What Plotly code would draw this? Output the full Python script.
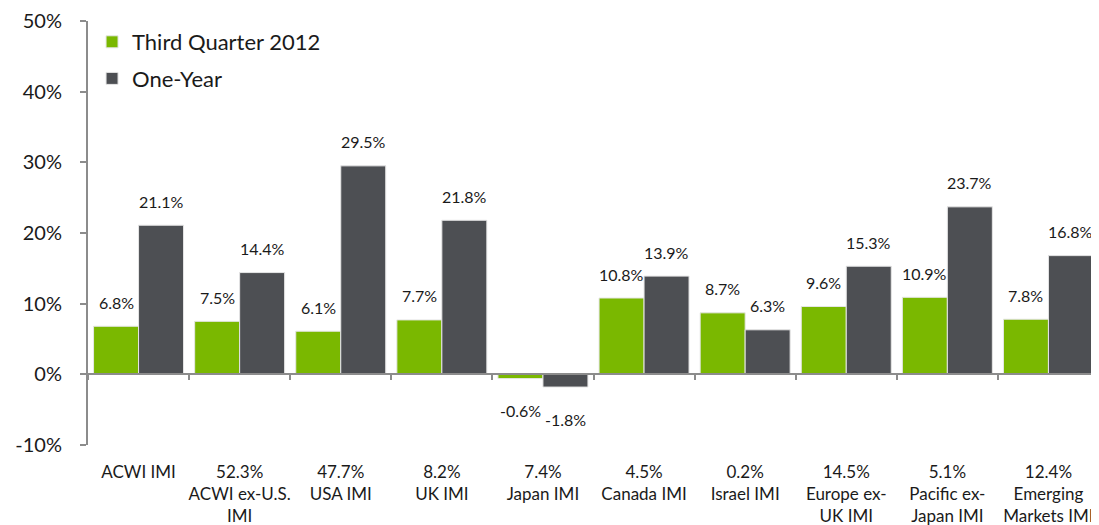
import plotly.graph_objects as go

categories = ["ACWI IMI", "ACWI ex-U.S.<br>IMI", "USA IMI", "UK IMI", "Japan IMI",
              "Canada IMI", "Israel IMI", "Europe ex-<br>UK IMI", "Pacific ex-<br>Japan IMI",
              "Emerging<br>Markets IMI"]
weights = ["", "52.3%", "47.7%", "8.2%", "7.4%", "4.5%", "0.2%", "14.5%", "5.1%", "12.4%"]
q3_2012 = [6.8, 7.5, 6.1, 7.7, -0.6, 10.8, 8.7, 9.6, 10.9, 7.8]
one_year = [21.1, 14.4, 29.5, 21.8, -1.8, 13.9, 6.3, 15.3, 23.7, 16.8]
y_ticks = [-10, 0, 10, 20, 30, 40, 50]

GREEN = "#7AB800"
GREY = "#4D4F53"
TXT = "#1a1a1a"
AX = "#8C8C8C"
FONT = "Lato, 'Open Sans', sans-serif"

tick_text = [(w + "<br>" if w else "") + c for w, c in zip(weights, categories)]

fig = go.Figure()
fig.add_trace(go.Bar(x=categories, y=q3_2012, name="Third Quarter 2012",
                     marker=dict(color=GREEN, line=dict(color="#E6E6E6", width=1)),
                     legendgroup="a"))
fig.add_trace(go.Bar(x=categories, y=one_year, name="One-Year",
                     marker=dict(color=GREY, line=dict(color="#E6E6E6", width=1)),
                     legendgroup="b"))

annotations = []
for i in range(len(categories)):
    for vals, shift in ((q3_2012, -22.5), (one_year, 22.5)):
        v = vals[i]
        annotations.append(dict(
            x=i, y=v, xref="x", yref="y", text=f"{v:.1f}%", showarrow=False,
            xshift=shift, yshift=24 if v >= 0 else -32, yanchor="middle",
            font=dict(family=FONT, size=16, color=TXT)))

# the page body adds an 8px offset, so the figure is 8px smaller with tighter left/top margins
fig.update_layout(
    width=1091, height=517,
    margin=dict(l=80, r=0, t=13, b=80, autoexpand=False),
    paper_bgcolor="white", plot_bgcolor="white",
    barmode="group", bargap=0.11, bargroupgap=0,
    font=dict(family=FONT, color=TXT),
    showlegend=True,
    legend=dict(x=0.004, y=1.0, xanchor="left", yanchor="top",
                font=dict(size=22, color=TXT), traceorder="grouped",
                tracegroupgap=5, bgcolor="rgba(0,0,0,0)"),
    annotations=annotations,
    xaxis=dict(type="category", tickmode="array", tickvals=categories, ticktext=tick_text,
               anchor="free", position=1/6, showline=True, linecolor=AX, linewidth=2,
               ticks="outside", tickson="boundaries", ticklen=5, tickcolor=AX, tickwidth=2,
               ticklabelstandoff=82, tickfont=dict(size=17, color=TXT), tickangle=0,
               ticklabeloverflow="allow", automargin=False, showgrid=False, zeroline=False),
    yaxis=dict(range=[-10, 50], tickvals=y_ticks, ticktext=[f"{t}%" for t in y_ticks],
               showline=True, linecolor=AX, linewidth=2, ticks="outside", ticklen=6,
               tickcolor=AX, tickwidth=2, ticklabelstandoff=14, automargin=False,
               ticklabeloverflow="allow",
               tickfont=dict(size=20, color=TXT), showgrid=False, zeroline=False),
)

fig.write_html("out.html")
